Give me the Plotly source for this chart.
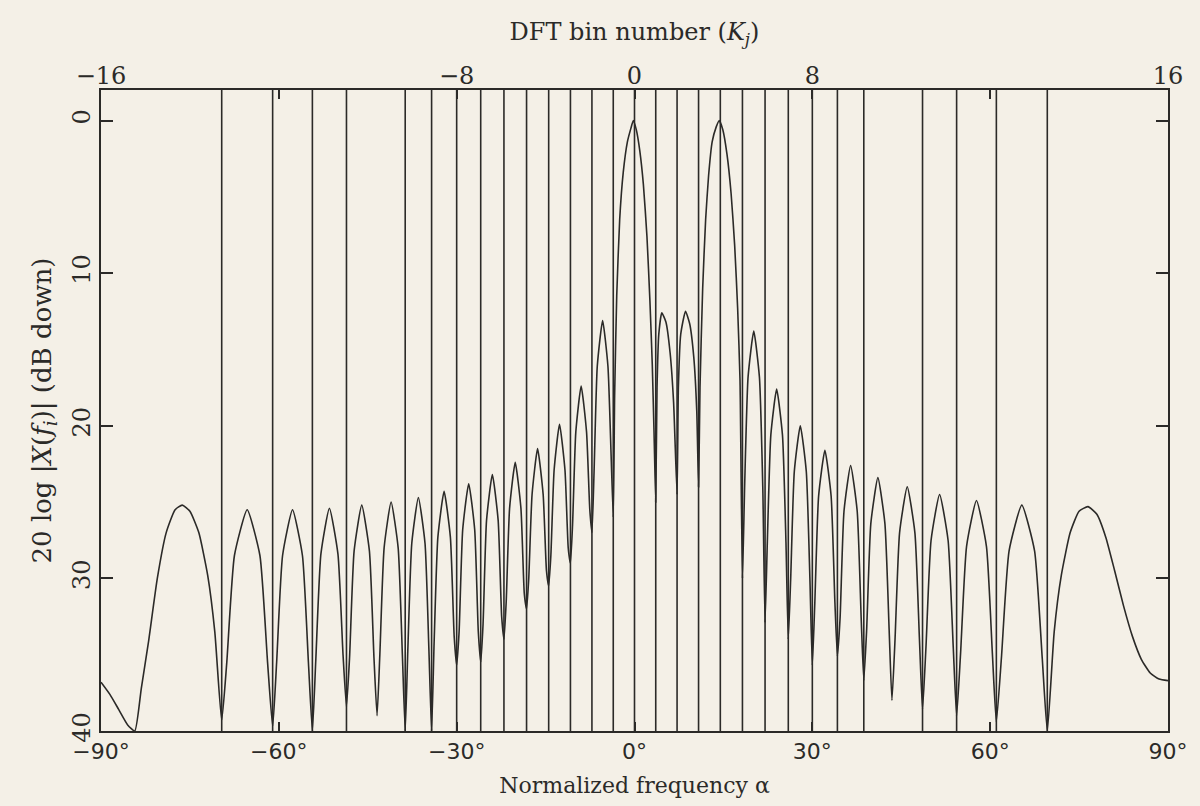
import numpy as np
import plotly.graph_objects as go

# DFT bins that carry a vertical bin line in the figure (K = +-11 have none; +-16 are the frame)
bins_with_lines = [-15, -14, -13, -12, -10, -9, -8, -7, -6, -5, -4, -3, -2, -1,
                   0, 1, 2, 3, 4, 5, 6, 7, 8, 9, 10, 12, 13, 14, 15]
n_half = 16
top_ticks_K = [-16, -8, 0, 8, 16]
top_tick_labels = ["\u221216", "\u22128", "0", "8", "16"]
bottom_tick_deg = [-90, -60, -30, 0, 30, 60, 90]
bottom_tick_labels = ["\u221290\u00b0", "\u221260\u00b0", "\u221230\u00b0", "0\u00b0",
                      "30\u00b0", "60\u00b0", "90\u00b0"]
y_ticks = [0, 10, 20, 30, 40]

# response curve: normalized frequency alpha (deg) and dB down
curve_alpha = [
    -90.0, -88.5, -87.0, -85.5, -84.3, -83.2, -82.0, -80.5, -79.0, -77.5, -76.3, -75.0, -73.5, -72.0, -70.8, -69.64,
    -68.78, -67.49, -65.34, -63.19, -61.90, -61.04,
    -60.37, -59.37, -57.69, -56.02, -55.01, -54.34,
    -53.77, -52.90, -51.47, -50.03, -49.17, -48.59,
    -48.07, -47.30, -46.01, -44.72, -43.95, -43.43,
    -42.96, -42.24, -41.06, -39.87, -39.16, -38.68,
    -38.24, -37.57, -36.46, -35.34, -34.68, -34.23,
    -33.81, -33.17, -32.12, -31.06, -30.42, -30.00,
    -29.59, -28.98, -27.97, -26.96, -26.35, -25.94,
    -25.55, -24.96, -23.98, -23.00, -22.41, -22.02,
    -21.64, -21.07, -20.12, -19.16, -18.59, -18.21,
    -17.84, -17.28, -16.35, -15.41, -14.85, -14.48,
    -14.11, -13.56, -12.65, -11.73, -11.18, -10.81,
    -10.45, -9.90, -9.00, -8.09, -7.54, -7.18,
    -6.82, -6.28, -5.38, -4.48, -3.94, -3.58,
    -3.35, -3.00, -2.50, -1.90, -1.20, -0.60, -0.20, 0.30, 0.90, 1.50, 2.10, 2.60, 3.00, 3.30, 3.58,
    3.80, 4.10, 4.60, 5.30, 6.00, 6.60, 7.18,
    7.40, 7.80, 8.60, 9.30, 10.00, 10.50, 10.81,
    11.05, 11.50, 12.00, 12.50, 13.10, 13.80, 14.30, 14.90, 15.60, 16.30, 16.90, 17.40, 17.80, 18.21,
    18.59, 19.16, 20.12, 21.07, 21.64, 22.02,
    22.41, 23.00, 23.98, 24.96, 25.55, 25.94,
    26.35, 26.96, 27.97, 28.98, 29.59, 30.00,
    30.42, 31.06, 32.12, 33.17, 33.81, 34.23,
    34.68, 35.34, 36.46, 37.57, 38.24, 38.68,
    39.16, 39.87, 41.06, 42.24, 42.96, 43.43,
    43.95, 44.72, 46.01, 47.30, 48.07, 48.59,
    49.17, 50.03, 51.47, 52.90, 53.77, 54.34,
    55.01, 56.02, 57.69, 59.37, 60.37, 61.04,
    61.90, 63.19, 65.34, 67.49, 68.78, 69.64,
    70.8, 72.0, 73.5, 75.0, 76.5, 78.0, 79.5, 81.0, 82.5, 84.0, 85.5, 87.0, 88.5, 90.0,
]
curve_db = [
    36.8, 37.6, 38.6, 39.6, 40.0, 37.2, 34.2, 30.0, 27.0, 25.5, 25.2, 25.6, 27.0, 29.8, 33.5, 39.3,
    35.5, 28.5, 25.5, 28.5, 35.5, 39.7,
    35.5, 28.5, 25.5, 28.5, 35.5, 40.0,
    35.4, 28.4, 25.4, 28.4, 35.0, 38.4,
    35.2, 28.2, 25.2, 28.2, 35.2, 39.0,
    35.0, 28.0, 25.0, 28.0, 35.0, 40.0,
    34.7, 27.7, 24.7, 27.7, 34.7, 40.0,
    34.3, 27.3, 24.3, 27.3, 33.8, 35.7,
    33.5, 26.8, 23.8, 26.8, 33.5, 35.5,
    33.0, 26.2, 23.2, 26.2, 32.5, 34.0,
    31.5, 25.4, 22.4, 25.4, 31.0, 32.0,
    30.0, 24.5, 21.5, 24.5, 29.5, 30.5,
    28.5, 22.9, 19.9, 22.9, 28.0, 29.0,
    26.5, 20.4, 17.4, 20.4, 25.5, 27.0,
    23.0, 16.1, 13.1, 16.1, 22.0, 26.0,
    18.0, 11.5, 6.5, 3.4, 1.4, 0.5, 0.0, 0.6, 2.0, 4.2, 7.6, 11.8, 16.0, 20.5, 25.0,
    17.5, 14.0, 12.6, 13.2, 15.2, 18.5, 24.5,
    17.5, 14.0, 12.5, 13.3, 15.5, 19.0, 24.0,
    17.5, 11.0, 6.5, 3.6, 1.4, 0.4, 0.0, 0.6, 2.2, 4.8, 8.2, 12.3, 17.0, 30.0,
    23.8, 16.8, 13.8, 16.8, 24.0, 32.9,
    27.6, 20.6, 17.6, 20.6, 27.6, 34.0,
    30.0, 23.0, 20.0, 23.0, 30.0, 35.7,
    31.6, 24.6, 21.6, 24.6, 31.6, 35.1,
    32.6, 25.6, 22.6, 25.6, 32.6, 36.7,
    33.4, 26.4, 23.4, 26.4, 33.4, 38.0,
    34.0, 27.0, 24.0, 27.0, 34.0, 38.6,
    34.5, 27.5, 24.5, 27.5, 34.5, 39.0,
    34.9, 27.9, 24.9, 27.9, 34.9, 39.4,
    35.2, 28.2, 25.2, 28.2, 35.2, 40.0,
    33.5, 29.8, 27.0, 25.6, 25.3, 25.8, 27.3, 29.5, 31.8, 33.8, 35.3, 36.2, 36.6, 36.7,
]

ink = "#2b2a28"
paper = "#f4f0e7"
serif = "DejaVu Serif, Liberation Serif, serif"
sans = "DejaVu Sans, Liberation Sans, sans-serif"

line_x, line_y = [], []
for k in bins_with_lines:
    a = float(np.degrees(np.arcsin(k / n_half)))
    line_x += [a, a, None]
    line_y += [40, -2, None]

top_vals = [float(np.degrees(np.arcsin(k / n_half))) for k in top_ticks_K]

fig = go.Figure()
fig.add_trace(go.Scatter(x=line_x, y=line_y, mode="lines",
                         line=dict(color=ink, width=1.6), hoverinfo="skip", showlegend=False))
fig.add_trace(go.Scatter(x=curve_alpha, y=curve_db, mode="lines",
                         line=dict(color=ink, width=1.6, shape="spline", smoothing=0.5),
                         showlegend=False))
fig.add_trace(go.Scatter(x=top_vals, y=[None] * len(top_vals), xaxis="x2", yaxis="y",
                         mode="markers", showlegend=False, hoverinfo="skip"))

fig.update_layout(
    width=1200, height=806,
    paper_bgcolor=paper, plot_bgcolor=paper,
    margin=dict(l=101, r=20, t=90, b=75),
    xaxis=dict(range=[-90, 90], tickvals=bottom_tick_deg, ticktext=bottom_tick_labels,
               ticks="inside", ticklen=9, tickwidth=1.5, tickcolor=ink,
               showline=True, linecolor=ink, linewidth=1.8, mirror="ticks",
               showgrid=False, zeroline=False,
               tickfont=dict(family=sans, size=22, color=ink),
               title=dict(text="Normalized frequency \u03b1",
                          font=dict(family=serif, size=22, color=ink), standoff=14)),
    xaxis2=dict(range=[-90, 90], overlaying="x", side="top", tickvals=top_vals,
                ticktext=top_tick_labels, ticks="", showgrid=False, zeroline=False,
                showline=False,
                tickfont=dict(family=serif, size=24, color=ink),
                title=dict(text="DFT bin number (<i>K<sub>j</sub></i>)",
                           font=dict(family=serif, size=24, color=ink), standoff=14)),
    yaxis=dict(range=[40, -2], tickvals=y_ticks, ticktext=[str(v) for v in y_ticks],
               ticks="inside", ticklen=12, tickwidth=1.5, tickcolor=ink, tickangle=-90,
               showline=True, linecolor=ink, linewidth=1.8, mirror="ticks",
               showgrid=False, zeroline=False,
               tickfont=dict(family=serif, size=24, color=ink),
               title=dict(text="20 log |<i>X</i>(<i>f<sub>i</sub></i>)| (dB down)",
                          font=dict(family=serif, size=26, color=ink), standoff=8)),
)

fig.write_html("out.html")
